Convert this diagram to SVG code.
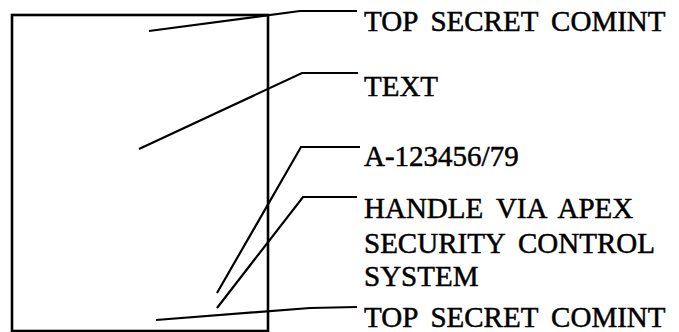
<svg xmlns="http://www.w3.org/2000/svg" width="679" height="332" viewBox="0 0 679 332">
<style>
.ln{fill:none;stroke:#000;stroke-width:2.2;stroke-linejoin:miter}
.lb{font-family:"Liberation Serif","Times New Roman",serif;font-size:29px;fill:#000;stroke:#000;stroke-width:0.5;word-spacing:6px}
</style>
<rect width="679" height="332" fill="#fff"/>
<g id="page">
<rect x="12" y="15" width="256" height="316" fill="none" stroke="#000" stroke-width="2.6"/>
</g>
<g id="connectors">
<polyline class="ln" points="149,31 300,11 357,11"/>
<polyline class="ln" points="139,149 302,73 358,73"/>
<polyline class="ln" points="217,293 301,147 360,147"/>
<polyline class="ln" points="217,308 303,197 357,197"/>
<polyline class="ln" points="156,320 310,308 357,307"/>
</g>
<g id="label-top">
<text class="lb" x="364" y="31">TOP SECRET COMINT</text>
</g>
<g id="label-text">
<text class="lb" x="364" y="96">TEXT</text>
</g>
<g id="label-number">
<text class="lb" x="364" y="166">A-123456/79</text>
</g>
<g id="label-handle">
<text class="lb" x="364" y="218">HANDLE VIA APEX</text>
<text class="lb" x="364" y="253">SECURITY CONTROL</text>
<text class="lb" x="364" y="286">SYSTEM</text>
</g>
<g id="label-bottom">
<text class="lb" x="364" y="327">TOP SECRET COMINT</text>
</g>
</svg>
